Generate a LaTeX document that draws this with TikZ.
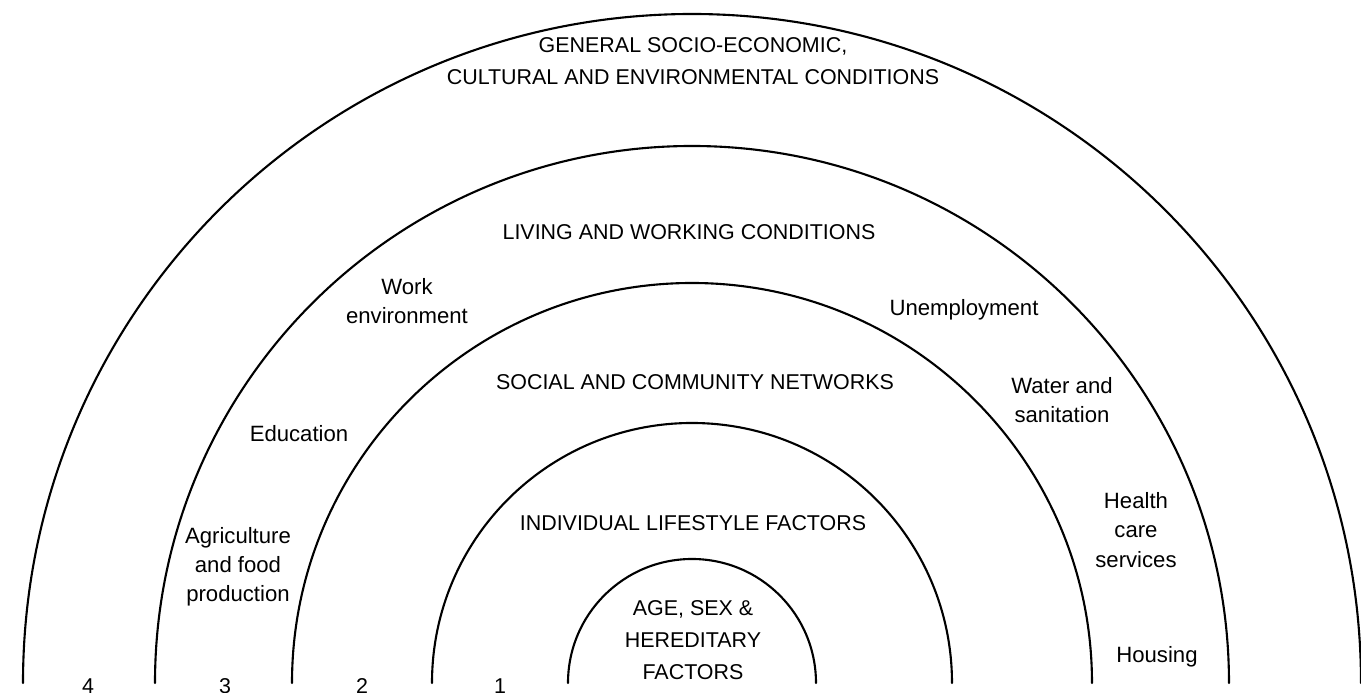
\documentclass[tikz,border=0pt]{standalone}
\usepackage{fontspec}
\setmainfont{Liberation Sans}
\begin{document}
\begin{tikzpicture}[line join=round,line cap=round,
		caps/.style={align=center,font=\fontsize{6.1}{9.1}\selectfont},
		small/.style={align=center,font=\fontsize{6.3}{8.3}\selectfont}]
	\tikzset{declare function={
			cx=6.92;cy=0.10;
	}}
	\useasboundingbox (0,0) rectangle (13.61,6.93);
	% rings
	\foreach \r in {1.24,2.60,4.00,5.37,6.69}{
		\draw[line width=0.6pt] ({cx+\r},{cy}) arc (0:180:\r);
	}
	% ring titles
	\node[caps] (general) at (6.93,6.32) {GENERAL SOCIO-ECONOMIC,\\CULTURAL AND ENVIRONMENTAL CONDITIONS};
	\node[caps] (living) at (6.89,4.61) {LIVING AND WORKING CONDITIONS};
	\node[caps] (social) at (6.95,3.11) {SOCIAL AND COMMUNITY NETWORKS};
	\node[caps] (lifestyle) at (6.93,1.70) {INDIVIDUAL LIFESTYLE FACTORS};
	\node[caps] (age) at (6.93,0.53) {AGE, SEX \&\\HEREDITARY\\FACTORS};
	% living and working conditions
	\node[small] (work) at (4.07,3.92) {Work\\environment};
	\node[small] (education) at (2.99,2.59) {Education};
	\node[small] (agri) at (2.38,1.26) {Agriculture\\and food\\production};
	\node[small] (unemp) at (9.64,3.83) {Unemployment};
	\node[small] (water) at (10.62,2.93) {Water and\\sanitation};
	\node[small] (health) at (11.36,1.63) {Health\\care\\services};
	\node[small] (housing) at (11.57,0.36) {Housing};
	% ring numbers
	\foreach \x/\n in {0.88/4,2.25/3,3.62/2,5.00/1}{
		\node[caps] (num\n) at (\x,0.07) {\n};
	}
\end{tikzpicture}
\end{document}
